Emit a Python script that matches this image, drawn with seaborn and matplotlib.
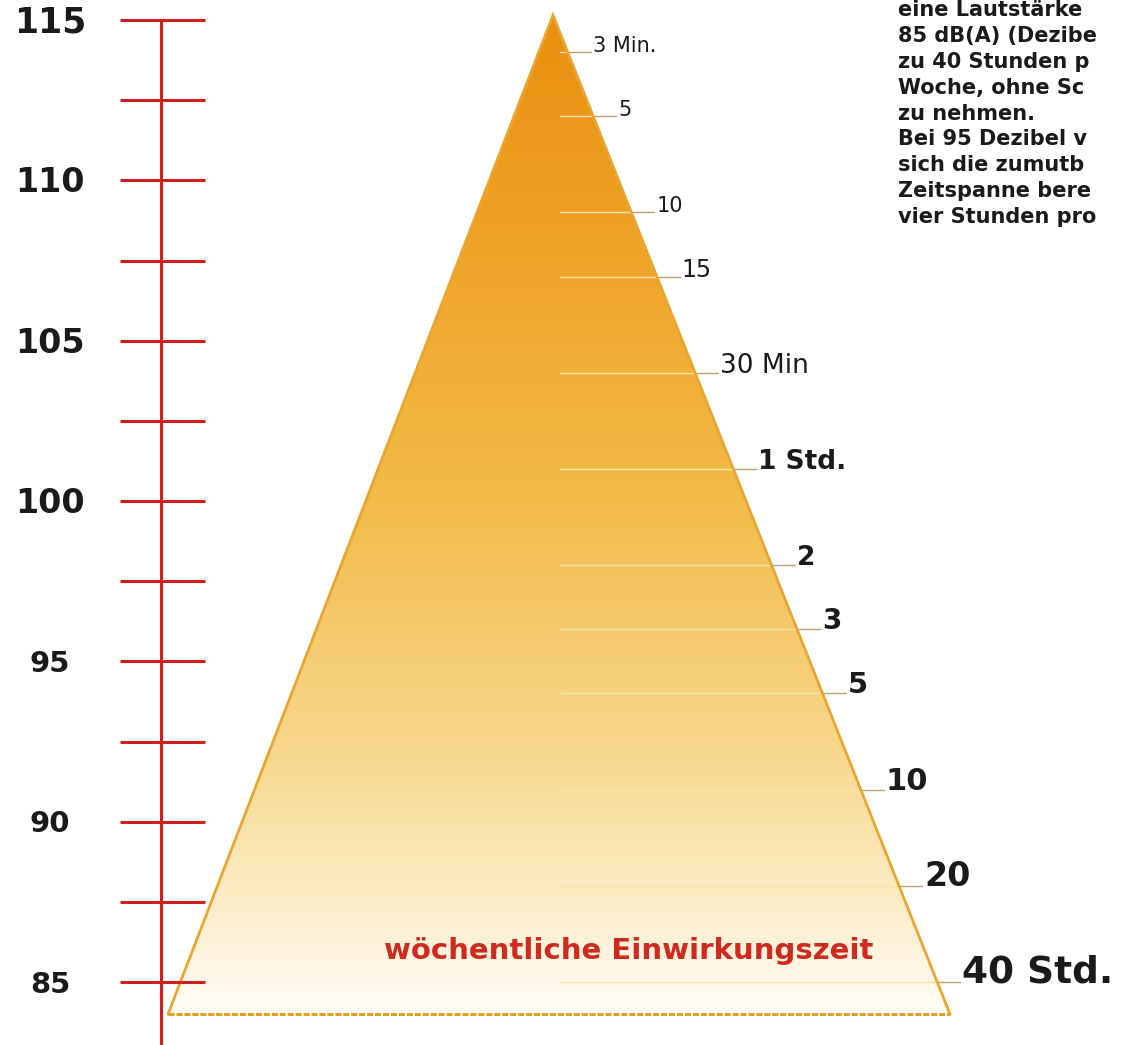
import numpy as np
import pandas as pd
import matplotlib
matplotlib.use("Agg")
import matplotlib.pyplot as plt
from matplotlib.patches import Polygon
from matplotlib.colors import to_rgb
import seaborn as sns

# ---------------- data ----------------
db_major = [115, 110, 105, 100, 95, 90, 85]
db_minor = [112.5, 107.5, 102.5, 97.5, 92.5, 87.5]

time_db = [114, 112, 109, 107, 104, 101, 98, 96, 94, 91, 88, 85]
time_labels = ["3 Min.", "5", "10", "15", "30 Min", "1 Std.", "2", "3", "5", "10", "20", "40 Std."]

apex_db = 115.15
base_db = 84.0

caption = "wöchentliche Einwirkungszeit"
# text block as visible in the (cropped) reference
note_lines = [
    "eine Lautstärke",
    "85 dB(A) (Dezibe",
    "zu 40 Stunden p",
    "Woche, ohne Sc",
    "zu nehmen.",
    "Bei 95 Dezibel v",
    "sich die zumutb",
    "Zeitspanne bere",
    "vier Stunden pro",
]

# ---------------- styles ----------------
label_sizes = [15, 15, 15, 17, 19, 19, 19, 20, 21, 22, 24, 27]
label_weights = ["normal", "medium", "normal", "normal", "normal", "bold",
                 "bold", "bold", "bold", "bold", "bold", "bold"]
major_sizes = [25, 24, 24, 24, 21, 21, 21]

grad_stops_db = [84.0, 85.0, 88.0, 92.0, 100.0, 108.0, 115.2]
grad_stops_col = ["#FFFDF8", "#FFF8EA", "#FCEAC0", "#F8D890", "#F2BC48", "#EFA326", "#EA8E10"]

sns.set_theme(style="white")
plt.rcParams["font.family"] = ["DejaVu Sans"]

W, H = 1143, 1045
fig = plt.figure(figsize=(W / 100, H / 100), dpi=100)
fig.patch.set_facecolor("white")
ax = fig.add_axes([0, 0, 1, 1])
ax.set_facecolor("white")

# pixel mapping: y_px = 20 + (115 - db) * 32.07
PXDB = 32.07
ytop = 115 + 20 / PXDB
ybot = 115 - (H - 20) / PXDB
ax.set_xlim(0, W)
ax.set_ylim(ybot, ytop)
ax.axis("off")

# ---------------- triangle ----------------
x_left, x_apex, x_right = 168, 553, 950
tri = Polygon([(x_left, base_db), (x_apex, apex_db), (x_right, base_db)],
              closed=True, facecolor="none", edgecolor="none")
ax.add_patch(tri)

ys = np.linspace(base_db, apex_db, 400)
cols = np.array([to_rgb(c) for c in grad_stops_col])
grad = np.stack([np.interp(ys, grad_stops_db, cols[:, k]) for k in range(3)], axis=-1)
img = grad[:, None, :].repeat(2, axis=1)
im = ax.imshow(img, extent=[x_left, x_right, base_db, apex_db], origin="lower",
               aspect="auto", interpolation="bilinear", zorder=1)
im.set_clip_path(tri)

def right_edge(db):
    return x_apex + (apex_db - db) / (apex_db - base_db) * (x_right - x_apex)

# guide lines (seaborn)
rows_in, rows_out = [], []
for db, lab in zip(time_db, time_labels):
    xe = right_edge(db)
    key = lab + str(db)
    rows_in += [{"label": key, "x": 560, "db": db}, {"label": key, "x": xe, "db": db}]
    rows_out += [{"label": key, "x": xe, "db": db}, {"label": key, "x": xe + 23, "db": db}]
df_in = pd.DataFrame(rows_in)
df_out = pd.DataFrame(rows_out)
sns.lineplot(data=df_in, x="x", y="db", units="label", estimator=None, sort=False,
             color="#FBE3A8", lw=1.0, ax=ax, zorder=2, legend=False)
sns.lineplot(data=df_out, x="x", y="db", units="label", estimator=None, sort=False,
             color="#B8A070", lw=1.0, ax=ax, zorder=2, legend=False)

# outline
ax.plot([x_left, x_apex, x_right], [base_db, apex_db, base_db], color="#E8A530", lw=2.0,
        zorder=3, solid_joinstyle="miter")
ax.plot([x_left, x_right], [base_db, base_db], color="#E0A020", lw=2.2, zorder=3,
        ls=(0, (2, 0.6)))

# labels at right
for db, lab, s, w in zip(time_db, time_labels, label_sizes, label_weights):
    ax.text(right_edge(db) + 25, db, lab, fontsize=s, fontweight=w, color="#1a1a1a",
            ha="left", va="baseline", zorder=4)

ax.text(629, 85 + (981 - 958) / PXDB, caption, fontsize=21, fontweight="bold",
        color="#D02A20", ha="center", va="baseline", zorder=4)

# ---------------- red scale ----------------
red = "#CC2020"
ax.plot([161, 161], [115, ybot], color=red, lw=2.2, zorder=5, solid_capstyle="butt")
for v in db_major + db_minor:
    ax.plot([120, 205], [v, v], color=red, lw=2.2, zorder=5, solid_capstyle="butt")
for v, s in zip(db_major, major_sizes):
    ax.text(50, v - 0.08, str(v), fontsize=s, fontweight="bold", color="#1a1a1a",
            ha="center", va="center", zorder=5)

# ---------------- note text (top right) ----------------
for i, line in enumerate(note_lines):
    py = 16 + i * 25.9
    ax.text(898, 115 - (py - 20) / PXDB, line, fontsize=15, fontweight="bold",
            color="#1a1a1a", ha="left", va="baseline", zorder=5)

fig.savefig("out.png", dpi=100, facecolor="white")
